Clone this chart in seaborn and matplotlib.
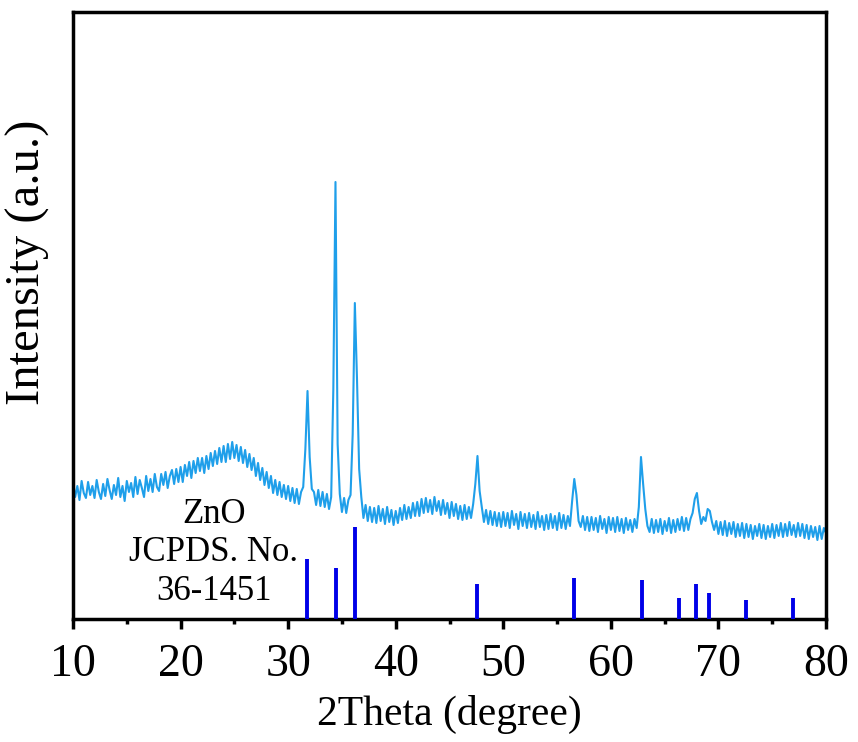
import numpy as np
import pandas as pd
import seaborn as sns
import matplotlib.pyplot as plt
from matplotlib.ticker import MultipleLocator

# scan grid (step 0.2 deg) and intensity
two_theta = np.round(np.arange(10, 80.001, 0.2), 1)
intensity = [
    136, 122, 133, 119, 138, 126, 121, 137, 124, 133,   # 10-12
    121, 139, 127, 120, 135, 123, 140, 129, 120, 134,   # 12-14
    124, 141, 122, 133, 118, 138, 127, 136, 122, 142,   # 14-16
    125, 139, 131, 122, 143, 128, 140, 127, 145, 132,   # 16-18
    128, 145, 134, 147, 131, 143, 149, 135, 150, 137,   # 18-20
    152, 137, 154, 143, 157, 141, 158, 146, 161, 148,   # 20-22
    161, 146, 163, 150, 166, 153, 168, 155, 171, 157,   # 22-24
    173, 157, 175, 160, 177, 161, 174, 158, 172, 156,   # 24-26
    169, 152, 165, 149, 161, 143, 156, 139, 151, 134,   # 26-28
    147, 131, 143, 126, 139, 124, 137, 122, 134, 120,   # 28-30
    133, 118, 131, 116, 130, 115, 127, 132, 170, 228,   # 30-32
    162, 130, 127, 114, 129, 113, 127, 112, 125, 110,   # 32-34
    122, 230, 437, 175, 125, 107, 121, 106, 119, 124,   # 34-36
    185, 316, 240, 150, 122, 101, 114, 98, 112, 97,     # 36-38
    111, 96, 113, 98, 110, 95, 112, 97, 109, 94,        # 38-40
    108, 96, 111, 99, 114, 100, 112, 101, 116, 103,     # 40-42
    117, 103, 120, 106, 121, 107, 119, 105, 122, 108,   # 42-44
    118, 104, 119, 105, 116, 101, 117, 103, 115, 100,   # 44-46
    113, 99, 114, 100, 112, 101, 115, 135, 163, 128,    # 46-48
    112, 97, 109, 95, 108, 94, 107, 93, 106, 92,        # 48-50
    107, 93, 106, 91, 108, 94, 105, 90, 107, 93,        # 50-52
    105, 91, 106, 92, 104, 90, 107, 92, 103, 89,        # 52-54
    104, 90, 105, 91, 103, 89, 106, 91, 104, 90,        # 54-56
    103, 93, 118, 140, 124, 98, 92, 103, 89, 102,       # 56-58
    88, 102, 89, 101, 87, 103, 90, 100, 86, 102,        # 58-60
    89, 101, 87, 102, 88, 100, 86, 101, 89, 99,         # 60-62
    87, 100, 91, 112, 162, 135, 110, 93, 87, 100,       # 62-64
    86, 99, 87, 100, 85, 98, 88, 101, 86, 99,           # 64-66
    87, 100, 89, 102, 88, 101, 89, 100, 106, 120,       # 66-68
    126, 108, 95, 102, 98, 110, 108, 97, 89, 98,        # 68-70
    85, 97, 84, 98, 83, 96, 85, 97, 82, 95,             # 70-72
    83, 96, 81, 95, 82, 94, 80, 93, 83, 95,             # 72-74
    81, 94, 80, 93, 82, 95, 81, 94, 83, 96,             # 74-76
    82, 95, 83, 97, 84, 94, 82, 96, 83, 95,             # 76-78
    81, 94, 80, 93, 82, 92, 79, 93, 80, 91,             # 78-80
    86,
]

# ZnO reference pattern, JCPDS 36-1451
ref_pos = [31.77, 34.42, 36.25, 47.54, 56.60, 62.86, 66.38, 67.96, 69.10, 72.56, 76.95]
ref_int = [60, 51, 92, 35, 41, 39, 21, 35, 26, 19, 21]

df = pd.DataFrame({"2theta": two_theta, "I": intensity})

sns.set_style("ticks")
plt.rcParams['font.family'] = ['Liberation Serif', 'DejaVu Serif']
plt.rcParams['text.color'] = 'black'
plt.rcParams['axes.labelcolor'] = 'black'
plt.rcParams['xtick.color'] = 'black'

fig, ax = plt.subplots(figsize=(8.58, 7.42), dpi=100)
fig.subplots_adjust(left=0.0851, right=0.9627, bottom=0.1658, top=0.9838)

sns.lineplot(data=df, x="2theta", y="I", ax=ax, color="#1f9fea", lw=1.5)
ax.vlines(ref_pos, 0, ref_int, color="#0000e8", lw=2.8, zorder=3)

ax.text(23.1, 66, "ZnO\nJCPDS. No.\n36-1451", ha="center", va="center",
        fontsize=25, linespacing=1.22)

ax.set_xlim(10, 80)
ax.set_ylim(0, 607)
ax.set_yticks([])
ax.xaxis.set_major_locator(MultipleLocator(10))
ax.xaxis.set_minor_locator(MultipleLocator(5))
ax.tick_params(axis="x", which="major", direction="out", length=7, width=2.5,
               labelsize=33, pad=11)
ax.tick_params(axis="x", which="minor", direction="out", length=3.5, width=2.5)
for s in ax.spines.values():
    s.set_visible(True)
    s.set_linewidth(2.5)
    s.set_color("black")

ax.set_xlabel("2Theta (degree)", fontsize=30, labelpad=6)
ax.set_ylabel("Intensity (a.u.)", fontsize=35)
ax.yaxis.set_label_coords(-0.031, 0.588)

fig.savefig("out.png", dpi=100)
